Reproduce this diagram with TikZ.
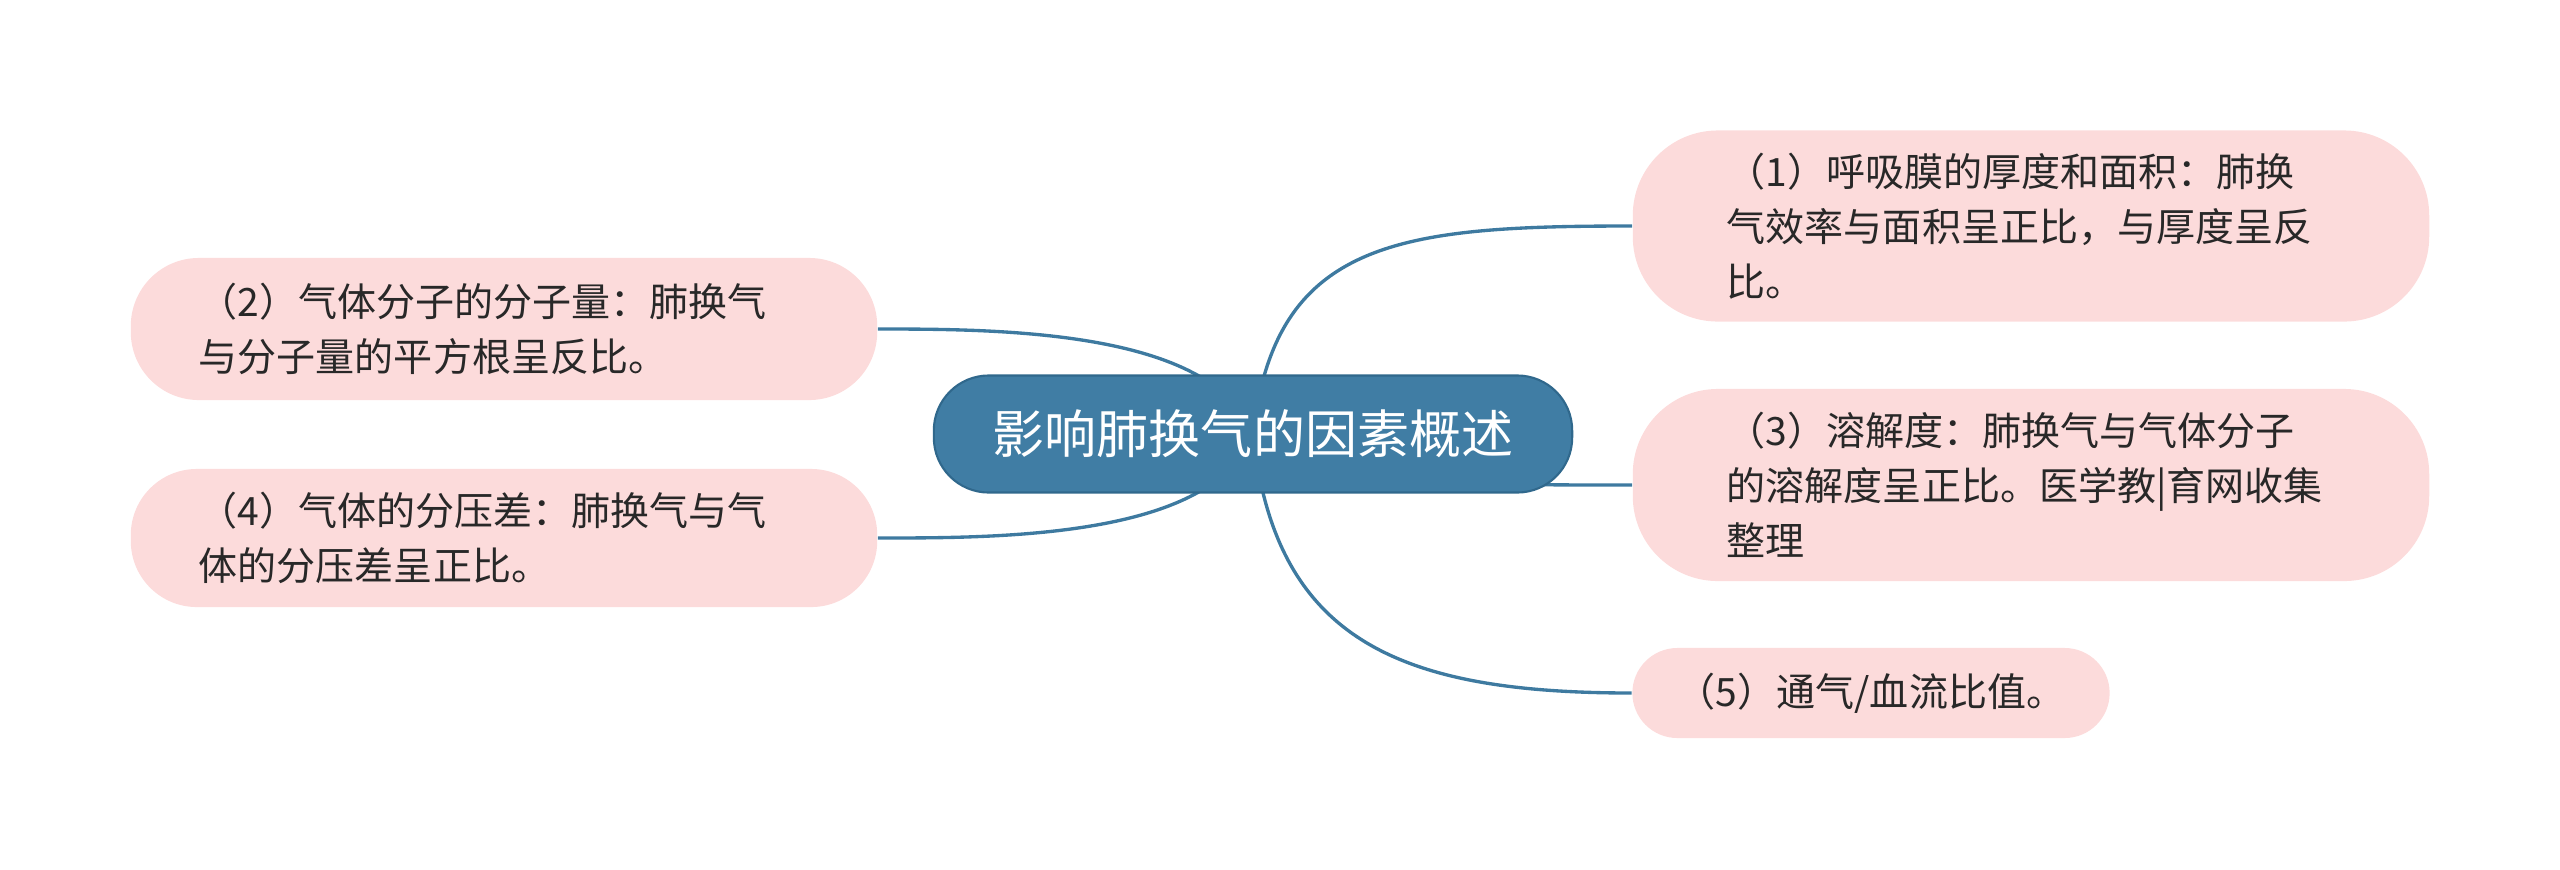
\documentclass[tikz,border=0pt]{standalone}
\usepackage{fontspec}
\newfontfamily\cjk{Noto Sans CJK SC}
\definecolor{edgeblue}{RGB}{62,122,160}
\definecolor{hubfill}{RGB}{64,125,164}
\definecolor{hubline}{RGB}{48,104,140}
\definecolor{leafpink}{RGB}{252,219,219}
\definecolor{textgray}{RGB}{40,40,40}
\pgfdeclarelayer{bg}
\pgfsetlayers{bg,main}
\tikzset{
  hub/.style={fill=hubfill, draw=hubline, line width=0.6pt, rounded corners=0.55cm,
    minimum width=6.38cm, minimum height=1.17cm, inner sep=0, text=white,
    font=\cjk\fontsize{14.8}{18}\selectfont},
  leaf/.style={fill=leafpink, draw=none, inner ysep=0, align=left, text=textgray,
    font=\cjk\fontsize{11.1}{15.6}\selectfont},
  link/.style={draw=edgeblue, line width=0.95pt}
}
\begin{document}
\begin{tikzpicture}[x=0.01cm, y=-0.01cm]
\useasboundingbox (0,0) rectangle (2560,869);
\node[hub] (c) at (1253,434) {影响肺换气的因素概述};
\node[leaf, inner xsep=0.94cm, text width=6.08cm, minimum height=1.91cm, rounded corners=0.85cm] (n1) at (2031,226)
  {（1）呼吸膜的厚度和面积：肺换\\气效率与面积呈正比，与厚度呈反\\比。};
\node[leaf, inner xsep=0.68cm, text width=6.10cm, minimum height=1.42cm, rounded corners=0.68cm] (n2) at (504,329)
  {（2）气体分子的分子量：肺换气\\与分子量的平方根呈反比。};
\node[leaf, inner xsep=0.94cm, text width=6.08cm, minimum height=1.92cm, rounded corners=0.85cm] (n3) at (2031,485)
  {（3）溶解度：肺换气与气体分子\\的溶解度呈正比。医学教|育网收集\\整理};
\node[leaf, inner xsep=0.68cm, text width=6.10cm, minimum height=1.38cm, rounded corners=0.66cm] (n4) at (504,538)
  {（4）气体的分压差：肺换气与气\\体的分压差呈正比。};
\node[leaf, inner xsep=0cm, minimum width=4.77cm, minimum height=0.90cm, rounded corners=0.45cm] (n5) at (1871,693)
  {（5）通气/血流比值。};
\begin{pgfonlayer}{bg}
\draw[link] (c.center) .. controls +(22,-194) and +(-233,0) .. (n1.west);
\draw[link] (c.center) .. controls +(97,51) and +(-183,0) .. (n3.west);
\draw[link] (c.center) .. controls +(22,206) and +(-233,0) .. (n5.west);
\draw[link] (c.center) .. controls +(-40,-104) and +(123,0) .. (n2.east);
\draw[link] (c.center) .. controls +(-40,104) and +(123,0) .. (n4.east);
\end{pgfonlayer}
\end{tikzpicture}
\end{document}
